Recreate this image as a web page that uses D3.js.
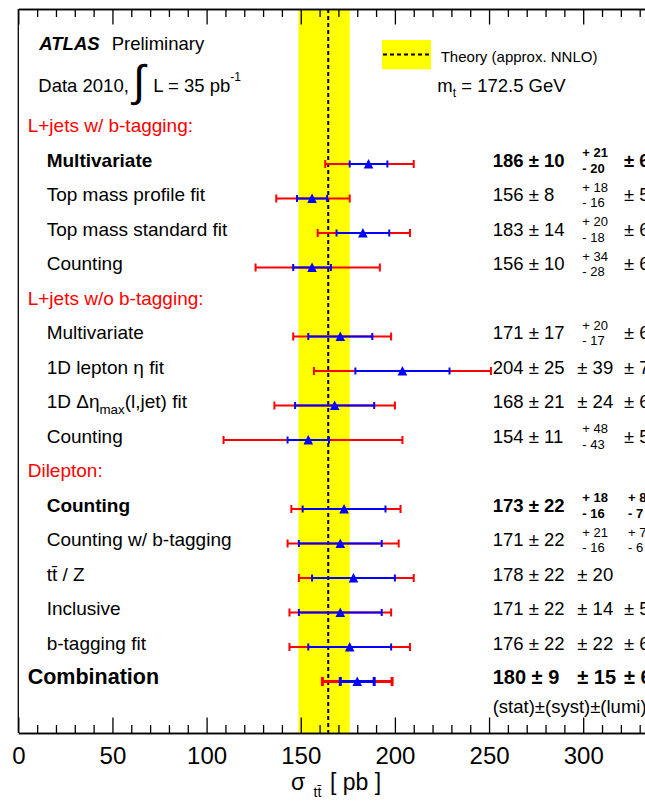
<!DOCTYPE html>
<html>
<head>
<meta charset="utf-8">
<script src="https://cdn.jsdelivr.net/npm/d3@7"></script>
<style>
  html, body { margin: 0; padding: 0; background: #fff; }
  svg { display: block; font-family: "Liberation Sans", Arial, Helvetica, sans-serif; }
</style>
</head>
<body>
<svg id="chart" width="645" height="801"></svg>
<script>
// ---- data: top-pair cross-section measurements (pb), ATLAS 2010 data ----
const headings = ["L+jets w/ b-tagging:", "L+jets w/o b-tagging:", "Dilepton:"];
const headingRows = [0, 5, 10];

const names = [
  "Multivariate", "Top mass profile fit", "Top mass standard fit", "Counting",
  "Multivariate", "1D lepton η fit", "1D Δη_{max}(l,jet) fit", "Counting",
  "Counting", "Counting w/ b-tagging", "tt\u0304 / Z", "Inclusive", "b-tagging fit",
  "Combination"
];
const rows   = [1, 2, 3, 4, 6, 7, 8, 9, 11, 12, 13, 14, 15, 16];
const bold   = [true, false, false, false, false, false, false, false, true, false, false, false, false, true];
const xsec   = [186, 156, 183, 156, 171, 204, 168, 154, 173, 171, 178, 171, 176, 180];
const stat   = [10, 8, 14, 10, 17, 25, 21, 11, 22, 22, 22, 22, 22, 9];
const systUp = [21, 18, 20, 34, 20, 39, 24, 48, 18, 21, 20, 14, 22, 15];
const systDn = [20, 16, 18, 28, 17, 39, 24, 43, 16, 16, 20, 14, 22, 15];
const lumiUp = [6, 5, 6, 6, 6, 7, 6, 5, 8, 7, null, 5, 6, 6];
const lumiDn = [6, 5, 6, 6, 6, 7, 6, 5, 7, 6, null, 5, 6, 6];
// total uncertainty (stat+syst+lumi)
const totUp  = [24, 20, 25, 36, 27, 47, 32, 50, 30, 31, 32, 27, 32, 18.5];
const totDn  = [23, 19, 24, 30, 25, 47, 32, 45, 28, 28, 29, 27, 32, 18.5];

// theory prediction (approx. NNLO, m_t = 172.5 GeV)
const theory = { value: 164.6, up: 11.4, down: 15.8 };

const majorTicks = [0, 50, 100, 150, 200, 250, 300, 350];
const minorTicks = d3.range(0, 351, 10).filter(v => v % 50 !== 0);

// ---- layout ----
const svg = d3.select("#chart");
const frame = { left: 18.3, top: 9, bottom: 733 };
const x = d3.scaleLinear().domain([0, 350]).range([frame.left, frame.left + 350 * 1.883]);
const y = d3.scaleLinear().domain([0, 16]).range([129.5, 681.5]);
const RED = "#ff0000", BLUE = "#0000ff";

// theory band and central line
svg.append("rect")
  .attr("x", x(theory.value - theory.down))
  .attr("y", frame.top)
  .attr("width", x(theory.value + theory.up) - x(theory.value - theory.down))
  .attr("height", frame.bottom - frame.top)
  .attr("fill", "#ffff00");
svg.append("line")
  .attr("x1", x(theory.value)).attr("x2", x(theory.value))
  .attr("y1", frame.top).attr("y2", frame.bottom)
  .attr("stroke", "#000").attr("stroke-width", 2).attr("stroke-dasharray", "4,3");

// axes: major + minor ticks, bottom and top
function drawAxis(gen, ty, values, size, labels) {
  const g = svg.append("g").attr("transform", `translate(0,${ty})`)
    .call(gen(x).tickValues(values).tickSizeInner(size).tickSizeOuter(0)
      .tickPadding(14).tickFormat(labels ? d3.format("d") : ""));
  g.selectAll("line").attr("stroke", "#000").attr("stroke-width", 1.3);
  g.select(".domain").attr("stroke", "#000").attr("stroke-width", 1.3);
  g.selectAll("text").attr("font-size", 24).attr("fill", "#000")
    .attr("font-family", "Liberation Sans, Arial, sans-serif");
  return g;
}
drawAxis(d3.axisBottom, frame.bottom, majorTicks, -15.5, true);
drawAxis(d3.axisBottom, frame.bottom, minorTicks, -8, false);
drawAxis(d3.axisTop, frame.top, majorTicks, -15.5, false);
drawAxis(d3.axisTop, frame.top, minorTicks, -8, false);
svg.append("line")
  .attr("x1", frame.left).attr("x2", frame.left)
  .attr("y1", frame.top).attr("y2", frame.bottom)
  .attr("stroke", "#000").attr("stroke-width", 1.3);
svg.append("line")
  .attr("x1", x(350)).attr("x2", x(350))
  .attr("y1", frame.top).attr("y2", frame.bottom)
  .attr("stroke", "#000").attr("stroke-width", 1.3);

// axis title
const title = svg.append("g");
title.append("text").attr("x", 291).attr("y", 790).attr("font-size", 23).text("σ");
title.append("text").attr("x", 313.5).attr("y", 797).attr("font-size", 14).text("tt\u0304");
title.append("text").attr("x", 330).attr("y", 790).attr("font-size", 23).text("[ pb ]");

// ---- measurements ----
const meas = names.map((n, i) => ({
  name: n, row: rows[i], bold: bold[i], v: xsec[i], stat: stat[i],
  sUp: systUp[i], sDn: systDn[i], lUp: lumiUp[i], lDn: lumiDn[i],
  tUp: totUp[i], tDn: totDn[i], combo: i === names.length - 1
}));

const bars = svg.append("g");
function errorBar(g, d, lo, hi, color, capH, w) {
  const yy = y(d.row);
  g.append("line").attr("x1", x(lo)).attr("x2", x(hi)).attr("y1", yy).attr("y2", yy)
    .attr("stroke", color).attr("stroke-width", w);
  [lo, hi].forEach(v => g.append("line")
    .attr("x1", x(v)).attr("x2", x(v)).attr("y1", yy - capH / 2).attr("y2", yy + capH / 2)
    .attr("stroke", color).attr("stroke-width", w));
}
meas.forEach(d => {
  const w = d.combo ? 3 : 2;
  errorBar(bars, d, d.v - d.tDn, d.v + d.tUp, RED, d.combo ? 9 : 8, w);
  errorBar(bars, d, d.v - d.stat, d.v + d.stat, BLUE, d.combo ? 9 : 7, w);
});
bars.selectAll("path.marker").data(meas).join("path")
  .attr("class", "marker")
  .attr("d", d => {
    const cx = x(d.v), cy = y(d.row);
    return `M${cx},${cy - 5}L${cx + 4.8},${cy + 4.4}L${cx - 4.8},${cy + 4.4}Z`;
  })
  .attr("fill", BLUE);

// ---- labels ----
const txt = svg.append("g").attr("fill", "#000");

headings.forEach((h, i) => {
  txt.append("text").attr("x", 27.7).attr("y", y(headingRows[i]) + 2.5)
    .attr("font-size", 19).attr("fill", RED).text(h);
});

// label text with optional _{sub} subscripts
function richText(sel, str, size) {
  const parts = str.split(/_\{([^}]*)\}/);
  parts.forEach((p, k) => {
    if (!p) return;
    if (k % 2 === 1) {
      sel.append("tspan").attr("font-size", size * 0.7).attr("dy", 6).text(p);
    } else {
      const t = sel.append("tspan").text(p);
      if (k > 0) t.attr("dy", -6);
    }
  });
}

meas.forEach(d => {
  const by = y(d.row) + 2.6;
  const fs = d.combo ? 21.5 : 19;
  const t = txt.append("text")
    .attr("x", d.combo ? 27.7 : 46.7).attr("y", by)
    .attr("font-size", fs).attr("font-weight", d.bold ? "bold" : null);
  richText(t, d.name, fs);

  const vs = d.combo ? 20 : 18.5;
  const fw = d.bold ? "bold" : null;
  txt.append("text").attr("x", 492.7).attr("y", by).attr("font-size", vs).attr("font-weight", fw)
    .text(`${d.v} ± ${d.stat}`);

  // systematic column
  if (d.sUp === d.sDn) {
    txt.append("text").attr("x", 577.3).attr("y", by).attr("font-size", vs).attr("font-weight", fw)
      .text(`± ${d.sUp}`);
  } else {
    txt.append("text").attr("x", 582.3).attr("y", by - 9.5).attr("font-size", 13).attr("font-weight", fw)
      .text(`+ ${d.sUp}`);
    txt.append("text").attr("x", 582.3).attr("y", by + 6).attr("font-size", 13).attr("font-weight", fw)
      .text(`- ${d.sDn}`);
  }
  // luminosity column
  if (d.lUp !== null) {
    if (d.lUp === d.lDn) {
      txt.append("text").attr("x", 624).attr("y", by).attr("font-size", vs).attr("font-weight", fw)
        .text(`± ${d.lUp}`);
    } else {
      txt.append("text").attr("x", 628).attr("y", by - 9.5).attr("font-size", 13).attr("font-weight", fw)
        .text(`+ ${d.lUp}`);
      txt.append("text").attr("x", 628).attr("y", by + 6).attr("font-size", 13).attr("font-weight", fw)
        .text(`- ${d.lDn}`);
    }
  }
});

txt.append("text").attr("x", 492.7).attr("y", 713).attr("font-size", 18.5)
  .text("(stat)±(syst)±(lumi)");

// ---- header ----
txt.append("text").attr("x", 39.3).attr("y", 50).attr("font-size", 18.5)
  .attr("font-weight", "bold").attr("font-style", "italic").text("ATLAS");
txt.append("text").attr("x", 111.7).attr("y", 50).attr("font-size", 18.5).text("Preliminary");
txt.append("text").attr("x", 38.3).attr("y", 91.7).attr("font-size", 18.5).text("Data 2010,");
txt.append("text").attr("x", 133).attr("y", 96).attr("font-size", 44).text("∫");
const lum = txt.append("text").attr("x", 153.3).attr("y", 91.7).attr("font-size", 18.5);
lum.append("tspan").text("L = 35 pb");
lum.append("tspan").attr("font-size", 12).attr("dy", -11).text("-1");

// legend
svg.append("rect").attr("x", 382).attr("y", 40).attr("width", 49).attr("height", 29.3)
  .attr("fill", "#ffff00");
svg.append("line").attr("x1", 383).attr("x2", 430).attr("y1", 54.5).attr("y2", 54.5)
  .attr("stroke", "#000").attr("stroke-width", 2).attr("stroke-dasharray", "4,3");
txt.append("text").attr("x", 440.7).attr("y", 61.5).attr("font-size", 15).text("Theory (approx. NNLO)");
const mt = txt.append("text").attr("x", 437.3).attr("y", 91.7).attr("font-size", 18.5);
mt.append("tspan").text("m");
mt.append("tspan").attr("font-size", 12).attr("dy", 5).text("t");
mt.append("tspan").attr("dy", -5).text(" = 172.5 GeV");
</script>
</body>
</html>
